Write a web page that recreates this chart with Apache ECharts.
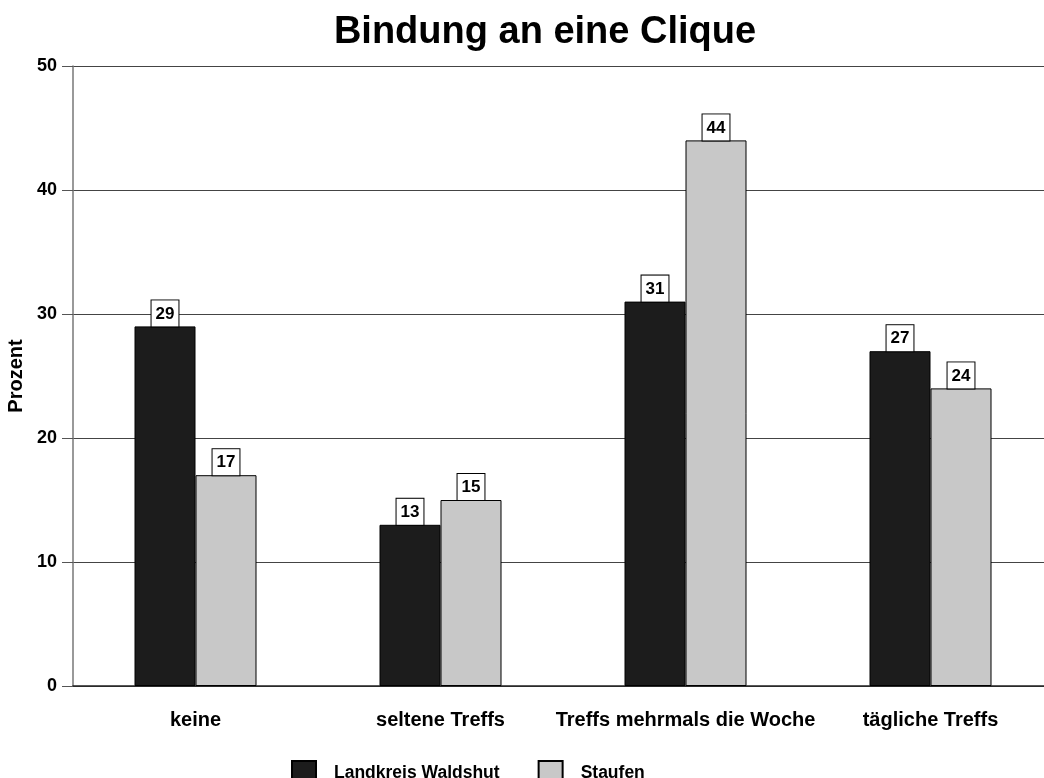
<!DOCTYPE html>
<html><head><meta charset="utf-8">
<script src="https://cdn.jsdelivr.net/npm/echarts@6/dist/echarts.min.js"></script>
<style>html,body{margin:0;padding:0;background:#fff}#c{width:1044px;height:778px}</style>
</head><body><div id="c"></div>
<script>
const categories = ['keine', 'seltene Treffs', 'Treffs mehrmals die Woche', 'tägliche Treffs'];
const waldshut = [29, 13, 31, 27];
const staufen = [17, 15, 44, 24];
const yTicks = [0, 10, 20, 30, 40, 50];

const font = 'Liberation Sans, Arial, sans-serif';
const label = {
  show: true, position: 'top', distance: 0,
  fontFamily: font, fontWeight: 'bold', fontSize: 17, color: '#000',
  backgroundColor: '#fff', borderColor: '#000', borderWidth: 1,
  padding: [5, 4, 4, 4]
};
const chart = echarts.init(document.getElementById('c'));
chart.setOption({
  animation: false,
  backgroundColor: '#fff',
  title: {
    text: 'Bindung an eine Clique', left: 540, textAlign: 'center', top: 9,
    textStyle: { fontFamily: font, fontWeight: 'bold', fontSize: 38, color: '#000' }
  },
  legend: {
    left: 286, top: 755, itemWidth: 24, itemHeight: 24, itemGap: 38, icon: 'rect',
    textStyle: { fontFamily: font, fontWeight: 'bold', fontSize: 17.5, color: '#000', padding: [0, 0, 0, 13] },
    data: ['Landkreis Waldshut', 'Staufen']
  },
  grid: { left: 73, right: -9, top: 66, bottom: 92, outerBoundsMode: 'none', containLabel: false },
  xAxis: {
    type: 'category', data: categories,
    axisLine: { lineStyle: { color: '#222', width: 1.5 } },
    axisTick: { alignWithLabel: true, length: 12, lineStyle: { color: '#222' } },
    axisLabel: { interval: 0, fontFamily: font, fontWeight: 'bold', fontSize: 20, color: '#000', margin: 24 }
  },
  yAxis: {
    type: 'value', min: 0, max: 50, interval: 10,
    name: 'Prozent', nameLocation: 'middle', nameGap: 43,
    nameTextStyle: { fontFamily: font, fontWeight: 'bold', fontSize: 20, color: '#000' },
    axisLine: { show: true, lineStyle: { color: '#777', width: 1.5 } },
    axisTick: { show: true, length: 11, lineStyle: { color: '#555' } },
    axisLabel: {
      fontFamily: font, fontWeight: 'bold', fontSize: 18, color: '#000', margin: 16,
      formatter: v => yTicks.includes(v) ? String(v) : ''
    },
    splitLine: { lineStyle: { color: '#444', width: 1 } }
  },
  series: [
    { name: 'Landkreis Waldshut', type: 'bar', data: waldshut, barWidth: 61, barGap: '0%',
      itemStyle: { color: '#1c1c1c', borderColor: '#000', borderWidth: 1 }, label: label },
    { name: 'Staufen', type: 'bar', data: staufen, barWidth: 61,
      itemStyle: { color: '#c8c8c8', borderColor: '#000', borderWidth: 1 }, label: label }
  ]
});
</script></body></html>
